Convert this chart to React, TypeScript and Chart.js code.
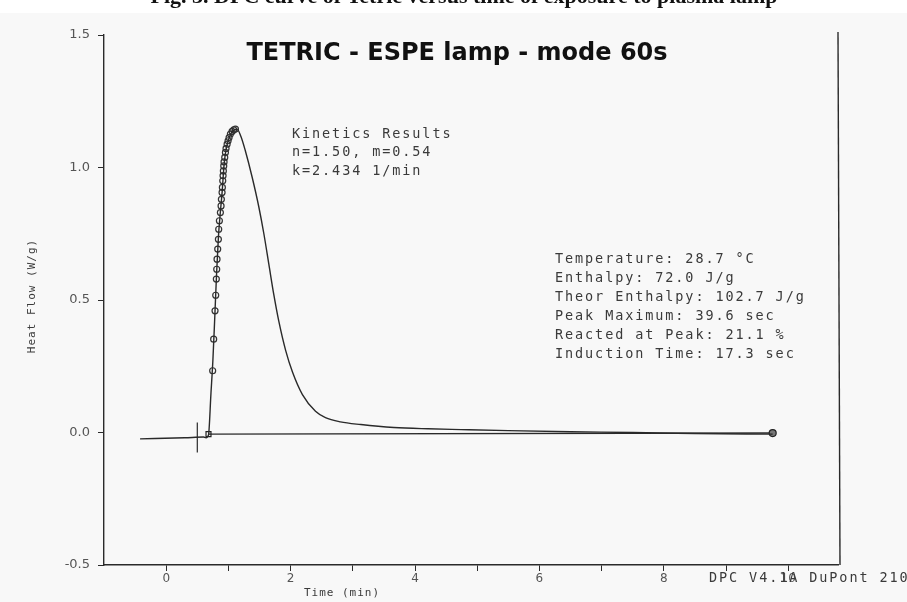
import React, { useEffect, useRef } from "react";
import { Chart, registerables } from "chart.js";

Chart.register(...registerables);

// Main DSC heat-flow trace (time in min, heat flow in W/g)
const curveTime = [-0.42, 0.3, 0.6, 0.64, 0.68, 0.72, 0.75, 0.78, 0.81, 0.84, 0.87, 0.9, 0.93, 0.96, 1.0, 1.04, 1.09, 1.14, 1.2, 1.27, 1.38, 1.49, 1.57, 1.65, 1.73, 1.81, 1.92, 2.03, 2.19, 2.4, 2.56, 2.8, 3.13, 3.66, 4.21, 4.74, 5.5, 6.5, 7.5, 8.5, 9.75];
const curveFlow = [-0.024, -0.02, -0.017, -0.02, -0.009, 0.15, 0.27, 0.43, 0.6, 0.74, 0.83, 0.91, 1.01, 1.065, 1.103, 1.128, 1.142, 1.145, 1.118, 1.065, 0.965, 0.85, 0.75, 0.635, 0.52, 0.42, 0.31, 0.228, 0.143, 0.08, 0.056, 0.04, 0.03, 0.019, 0.014, 0.011, 0.007, 0.003, 0.0, -0.004, -0.006];

// Kinetics fit points (open circles on the rising edge)
const fitTime = [0.747, 0.763, 0.785, 0.796, 0.806, 0.812, 0.817, 0.828, 0.839, 0.844, 0.855, 0.871, 0.882, 0.887, 0.898, 0.903, 0.909, 0.914, 0.919, 0.925, 0.93, 0.941, 0.952, 0.962, 0.979, 0.995, 1.011, 1.032, 1.059, 1.086, 1.113];
const fitFlow = [0.233, 0.352, 0.459, 0.518, 0.579, 0.616, 0.654, 0.692, 0.729, 0.767, 0.799, 0.83, 0.855, 0.88, 0.906, 0.925, 0.95, 0.969, 0.987, 1.006, 1.021, 1.038, 1.057, 1.072, 1.088, 1.101, 1.113, 1.126, 1.136, 1.142, 1.145];

// Integration baseline
const baseTime = [0.68, 9.75];
const baseFlow = [-0.006, -0.002];

// Onset marker (vertical tick)
const onsetTime = [0.5, 0.5];
const onsetFlow = [0.038, -0.075];

const xTickLabels = ["0", "2", "4", "6", "8", "10"];
const yTickLabels = ["-0.5", "0.0", "0.5", "1.0", "1.5"];

const titleText = "TETRIC - ESPE lamp - mode 60s";
const captionText = "Fig. 3. DPC curve of Tetric versus time of exposure to plasma lamp";
const kineticsLines = ["Kinetics Results", "n=1.50, m=0.54", "k=2.434 1/min"];
const resultLines = [
  "Temperature: 28.7 °C",
  "Enthalpy: 72.0 J/g",
  "Theor Enthalpy: 102.7 J/g",
  "Peak Maximum: 39.6 sec",
  "Reacted at Peak: 21.1 %",
  "Induction Time: 17.3 sec",
];
const footerText = "DPC V4.1A DuPont 2100";
const xTitle = "Time (min)";
const yTitle = "Heat Flow (W/g)";

const pts = (xs: number[], ys: number[]) => xs.map((x, i) => ({ x, y: ys[i] }));

export default function App() {
  const ref = useRef<HTMLCanvasElement | null>(null);

  useEffect(() => {
    document.body.style.margin = "0";
    const canvas = ref.current!;
    const ink = "#2a2a2a";
    const textInk = "#3a3a3a";

    const decor = {
      id: "decor",
      beforeDraw(chart: any) {
        const { ctx } = chart;
        ctx.save();
        ctx.fillStyle = "#f8f8f8";
        ctx.fillRect(0, 0, chart.width, chart.height);
        ctx.fillStyle = "#ffffff";
        ctx.fillRect(0, 0, chart.width, 13);
        ctx.restore();
      },
      afterDraw(chart: any) {
        const { ctx, chartArea } = chart;
        ctx.save();
        // right frame line
        ctx.strokeStyle = ink;
        ctx.lineWidth = 1.4;
        ctx.beginPath();
        ctx.moveTo(chartArea.right, chartArea.top - 3);
        ctx.lineTo(chartArea.right + 2, chartArea.bottom);
        ctx.stroke();

        // caption (cut at top)
        ctx.fillStyle = "#111";
        ctx.font = "bold 22px 'Liberation Serif'";
        ctx.textAlign = "center";
        ctx.textBaseline = "alphabetic";
        ctx.fillText(captionText, 464, 3);

        // title
        ctx.fillStyle = "#111";
        ctx.font = "bold 24px 'DejaVu Sans'";
        ctx.textAlign = "center";
        ctx.textBaseline = "middle";
        ctx.fillText(titleText, 457, 54);

        const setSpacing = (s: string) => {
          try { (ctx as any).letterSpacing = s; } catch (e) {}
        };
        // annotation blocks
        ctx.fillStyle = textInk;
        ctx.textAlign = "left";
        ctx.textBaseline = "middle";
        ctx.font = "13.5px 'DejaVu Sans Mono'";
        setSpacing("1.9px");
        kineticsLines.forEach((t, i) => ctx.fillText(t, 292, 134 + i * 18.5));
        resultLines.forEach((t, i) => ctx.fillText(t, 555, 259 + i * 19));
        ctx.fillText(footerText, 709, 578);

        // axis titles
        ctx.font = "11px 'DejaVu Sans Mono'";
        setSpacing("1px");
        ctx.textAlign = "center";
        ctx.fillText(xTitle, 342, 593);
        ctx.save();
        ctx.translate(32, 296);
        ctx.rotate(-Math.PI / 2);
        ctx.fillText(yTitle, 0, 0);
        ctx.restore();
        setSpacing("0px");
        ctx.restore();
      },
    };

    const chart = new Chart(canvas, {
      type: "line",
      data: {
        datasets: [
          {
            label: "Heat flow",
            data: pts(curveTime, curveFlow),
            borderColor: ink,
            borderWidth: 1.4,
            pointRadius: 0,
            cubicInterpolationMode: "monotone",
            fill: false,
          },
          {
            label: "Kinetics fit",
            data: pts(fitTime, fitFlow),
            showLine: false,
            pointStyle: "circle",
            pointRadius: 3,
            pointBorderWidth: 1.2,
            pointBorderColor: "#333",
            pointBackgroundColor: "rgba(0,0,0,0)",
          },
          {
            label: "Baseline",
            data: pts(baseTime, baseFlow),
            borderColor: ink,
            borderWidth: 1.4,
            pointStyle: ["rect", "circle"],
            pointRadius: [3.5, 3.5],
            pointBorderColor: "#222",
            pointBorderWidth: 1.2,
            pointBackgroundColor: ["rgba(0,0,0,0)", "#777"],
          },
          {
            label: "Onset",
            data: pts(onsetTime, onsetFlow),
            borderColor: ink,
            borderWidth: 1.2,
            pointRadius: 0,
          },
        ],
      },
      options: {
        responsive: false,
        animation: false,
        layout: { padding: { left: 0, top: 35, right: 69, bottom: 0 } },
        plugins: { legend: { display: false }, tooltip: { enabled: false }, title: { display: false } },
        scales: {
          x: {
            type: "linear",
            min: -1,
            max: 10.8,
            afterFit: (s: any) => { s.height = 37; },
            afterBuildTicks: (s: any) => {
              s.ticks = s.ticks.filter((t: any) => Number.isInteger(Math.round(t.value * 1000) / 1000) && t.value > -1);
            },
            ticks: {
              stepSize: 1,
              autoSkip: false,
              maxRotation: 0,
              padding: 1,
              color: "#555",
              font: { family: "'DejaVu Sans'", size: 12 },
              callback: (v: any) => {
                const s = String(v);
                return v >= 0 && v % 2 === 0 && xTickLabels.includes(s) ? s : "";
              },
            },
            grid: { drawOnChartArea: false, drawTicks: true, tickLength: 6, color: ink, tickWidth: 1 },
            border: { display: true, color: ink, width: 1.4 },
          },
          y: {
            type: "linear",
            min: -0.5,
            max: 1.5,
            afterFit: (s: any) => { s.width = 104; },
            ticks: {
              stepSize: 0.25,
              autoSkip: false,
              padding: 8,
              color: "#555",
              font: { family: "'DejaVu Sans'", size: 13 },
              callback: (v: any) => {
                const s = Number(v).toFixed(1);
                return Math.abs(v * 2 - Math.round(v * 2)) < 1e-9 && yTickLabels.includes(s) ? s : "";
              },
            },
            grid: {
              drawOnChartArea: false,
              drawTicks: true,
              tickLength: 6,
              color: (c: any) => (Math.abs(c.tick.value * 2 - Math.round(c.tick.value * 2)) < 1e-9 ? ink : "rgba(0,0,0,0)"),
            },
            border: { display: true, color: ink, width: 1.4 },
          },
        },
      },
      plugins: [decor],
    } as any);

    return () => chart.destroy();
  }, []);

  return (
    <div style={{ position: "absolute", left: 0, top: 0, width: 907, height: 602 }}>
      <canvas ref={ref} width={907} height={602} style={{ width: 907, height: 602, display: "block" }} />
    </div>
  );
}
